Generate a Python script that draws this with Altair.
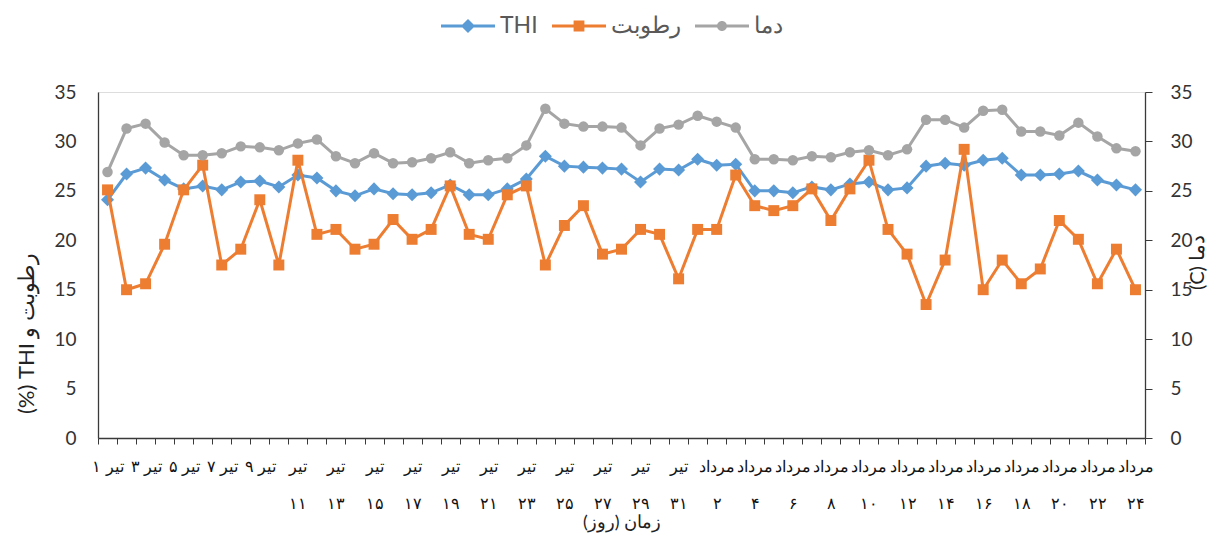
import json
import altair as alt
import pandas as pd

series_names = ["THI", "رطوبت", "دما"]
series_colors = ["#5B9BD5", "#ED7D31", "#A5A5A5"]

thi = [24.1, 26.7, 27.3, 26.1, 25.2, 25.5, 25.1, 25.9, 26.0, 25.4,
       26.6, 26.3, 25.0, 24.5, 25.2, 24.7, 24.6, 24.8, 25.6, 24.6,
       24.6, 25.2, 26.2, 28.5, 27.5, 27.4, 27.3, 27.2, 25.9, 27.2,
       27.1, 28.2, 27.6, 27.7, 25.0, 25.0, 24.8, 25.4, 25.1, 25.7,
       25.9, 25.1, 25.3, 27.5, 27.8, 27.6, 28.1, 28.3, 26.6, 26.6,
       26.7, 27.0, 26.1, 25.6, 25.1]
humidity = [25.1, 15.0, 15.6, 19.6, 25.1, 27.6, 17.5, 19.1, 24.1, 17.5,
            28.1, 20.6, 21.1, 19.1, 19.6, 22.1, 20.1, 21.1, 25.5, 20.6,
            20.1, 24.6, 25.5, 17.5, 21.5, 23.5, 18.6, 19.1, 21.1, 20.6,
            16.1, 21.1, 21.1, 26.6, 23.5, 23.0, 23.5, 25.2, 22.0, 25.2,
            28.1, 21.1, 18.6, 13.5, 18.0, 29.2, 15.0, 18.0, 15.6, 17.1,
            22.0, 20.1, 15.6, 19.1, 15.0]
temp = [26.9, 31.3, 31.8, 29.9, 28.6, 28.6, 28.8, 29.5, 29.4, 29.1,
        29.8, 30.2, 28.5, 27.8, 28.8, 27.8, 27.9, 28.3, 28.9, 27.8,
        28.1, 28.3, 29.6, 33.3, 31.8, 31.5, 31.5, 31.4, 29.6, 31.3,
        31.7, 32.6, 32.0, 31.4, 28.2, 28.2, 28.1, 28.5, 28.4, 28.9,
        29.1, 28.6, 29.2, 32.2, 32.2, 31.4, 33.1, 33.2, 31.0, 31.0,
        30.6, 31.9, 30.5, 29.3, 29.0]

# one category per day (تیر 1..31, مرداد 1..24); every other day is labelled
day_index = list(range(55))
tick_labels = [
    "تیر ۱", "تیر ۳", "تیر ۵", "تیر ۷", "تیر ۹",
    "تیر\n۱۱", "تیر\n۱۳", "تیر\n۱۵", "تیر\n۱۷", "تیر\n۱۹", "تیر\n۲۱",
    "تیر\n۲۳", "تیر\n۲۵", "تیر\n۲۷", "تیر\n۲۹", "تیر\n۳۱",
    "مرداد\n۲", "مرداد\n۴", "مرداد\n۶", "مرداد\n۸", "مرداد\n۱۰",
    "مرداد\n۱۲", "مرداد\n۱۴", "مرداد\n۱۶", "مرداد\n۱۸", "مرداد\n۲۰",
    "مرداد\n۲۲", "مرداد\n۲۴",
]
y_ticks = [0, 5, 10, 15, 20, 25, 30, 35]

# ---- build tables / options from the lists ----
rows = []
for name, vals in zip(series_names, [thi, humidity, temp]):
    for i, v in zip(day_index, vals):
        rows.append({"idx": i, "series": name, "value": v})
df = pd.DataFrame(rows)

label_arr = []
for i in day_index:
    if i % 2 == 0:
        lab = tick_labels[i // 2]
        if "\n" in lab:
            label_arr.append(lab.split("\n"))
        else:
            label_arr.append("\u202b" + lab + "\u202c")
    else:
        label_arr.append("")
label_expr = json.dumps(label_arr, ensure_ascii=False) + "[datum.value]"

FONT = "Lato"
AX = "#3a3a3a"

x_axis = alt.Axis(
    title="\u202bزمان (روز)\u202c",
    titleFontSize=18, titleFontWeight="normal", titleColor="#222",
    titleY=84, titleBaseline="middle",
    tickBand="extent", labelExpr=label_expr, labelAngle=0,
    labelOverlap=False, labelFontSize=16, labelColor="#111",
    labelLineHeight=37, labelPadding=14, labelBaseline="top",
    tickSize=6, tickColor=AX, domainColor=AX, domainWidth=1.3,
    grid=False,
)
x_enc = alt.X(
    "idx:O",
    scale=alt.Scale(type="band", paddingInner=0, paddingOuter=0, domain=day_index),
    axis=x_axis,
)

y_left = alt.Y(
    "value:Q",
    scale=alt.Scale(domain=[0, 35], nice=False, zero=True),
    axis=alt.Axis(
        values=y_ticks, grid=False, ticks=False, domainColor=AX, domainWidth=1.3,
        labelFontSize=19, labelColor="#333", labelPadding=22,
        title="\u202bرطوبت و THI (%)\u202c", titleFontSize=22,
        titleFontWeight="normal", titleColor="#222", titleAngle=270,
        titleX=-72, titleY=241, titleBaseline="middle",
    ),
)
y_right = alt.Y(
    "value:Q",
    scale=alt.Scale(domain=[0, 35], nice=False, zero=True),
    axis=alt.Axis(
        orient="right", values=y_ticks, grid=False, tickSize=7, tickColor=AX,
        domainColor=AX, domainWidth=1.3, labelFontSize=19, labelColor="#333",
        labelPadding=18,
        title="\u202bدما (C)\u202c", titleFontSize=20, titleFontWeight="normal",
        titleColor="#222", titleAngle=270, titleX=52, titleY=170,
        titleBaseline="middle",
    ),
)


def series_layers(name, color, shape, size, y_enc, x):
    base = alt.Chart(df).transform_filter(alt.datum.series == name)
    line = base.mark_line(color=color, strokeWidth=3).encode(x=x, y=y_enc)
    pts = base.mark_point(filled=True, shape=shape, size=size, color=color,
                          opacity=1).encode(x=x, y=y_enc)
    return [line, pts]


# legend symbols: a short line with the series marker on it
legend_paths = [
    "M-1,-0.056 L-0.2,-0.056 L-0.2,0.056 L-1,0.056 Z M0.2,-0.056 L1,-0.056 L1,0.056 L0.2,0.056 Z M0,-0.26 L0.26,0 L0,0.26 L-0.26,0 Z",
    "M-1,-0.056 L-0.2,-0.056 L-0.2,0.056 L-1,0.056 Z M0.2,-0.056 L1,-0.056 L1,0.056 L0.2,0.056 Z M-0.2,-0.2 L0.2,-0.2 L0.2,0.2 L-0.2,0.2 Z",
    "M-1,-0.056 L-0.18,-0.056 L-0.18,0.056 L-1,0.056 Z M0.18,-0.056 L1,-0.056 L1,0.056 L0.18,0.056 Z M-0.185,0 A0.185,0.185 0 1,1 0.185,0 A0.185,0.185 0 1,1 -0.185,0 Z",
]
legend_layer = alt.Chart(df).transform_filter("false").mark_point(
    filled=True, opacity=1
).encode(
    color=alt.Color("series:N", scale=alt.Scale(domain=series_names, range=series_colors),
                    legend=alt.Legend(
                        title=None, orient="none", direction="horizontal",
                        legendX=343, legendY=-93, symbolSize=2916,
                        symbolStrokeWidth=0, labelFontSize=23, labelColor="#595959",
                        labelFont=FONT, labelOffset=5, columnPadding=14,
                    )),
    shape=alt.Shape("series:N", scale=alt.Scale(domain=series_names, range=legend_paths),
                    legend=alt.Legend(title=None)),
)

left = alt.layer(
    *series_layers("THI", series_colors[0], "diamond", 170, y_left, x_enc),
    *series_layers("رطوبت", series_colors[1], "square", 120, y_left, x_enc),
    legend_layer,
)
right = alt.layer(
    *series_layers("دما", series_colors[2], "circle", 110, y_right, x_enc),
)

chart = alt.layer(left, right).resolve_scale(y="independent").properties(
    width=1047, height=346,
    padding={"left": 90, "top": 84, "right": 64, "bottom": 98},
    autosize=alt.AutoSizeParams(type="none"),
).configure_view(stroke=None).configure(font=FONT).configure_axis(
    labelFont=FONT, titleFont=FONT
)

chart.save("out.html", embed_options={"renderer": "svg", "actions": False})
